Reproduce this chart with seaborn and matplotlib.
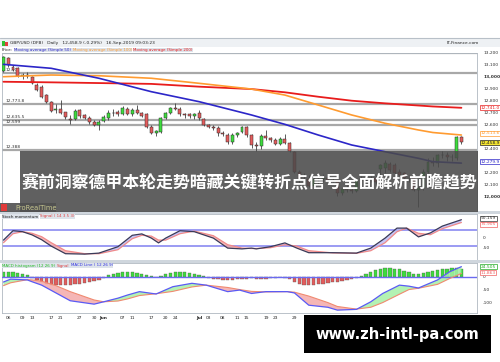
import matplotlib
matplotlib.use("Agg")
import matplotlib.pyplot as plt
import matplotlib.transforms as mtransforms
from matplotlib.patches import Rectangle
import numpy as np
import seaborn as sns

# ---------------- data ----------------
opens  = [13048,13153,13083,13070,13008,13014,13000,12931,12917,12847,12792,12720,12731,12703,12650,12647,12722,12681,12660,12625,
          12600,12631,12658,12695,12705,12690,12730,12689,12720,12700,12689,12583,12530,12542,12658,12700,12742,12730,12689,12689,
          12670,12700,12647,12597,12583,12575,12528,12514,12453,12514,12542,12583,12514,12430,12420,12505,12490,12475,12440,12485,
          12450,12375,12208,12150,12150,12090,12150,12145,12160,12140,12130,12030,12065,12060,12050,12150,12140,12145,12160,12228,
          12236,12272,12264,12208,12195,12153,12160,12060,12070,12210,12290,12285,12350,12345,12330,12322,12495]
highs  = [13175,13165,13100,13080,13030,13040,13010,12945,12930,12855,12800,12770,12806,12710,12680,12730,12730,12690,12670,12640,
          12640,12680,12720,12730,12720,12760,12745,12740,12765,12710,12700,12600,12560,12665,12710,12745,12778,12750,12700,12700,
          12700,12720,12660,12610,12600,12590,12545,12530,12530,12540,12590,12590,12520,12460,12520,12560,12500,12490,12500,12520,
          12460,12380,12220,12200,12180,12170,12170,12190,12175,12160,12140,12080,12100,12080,12160,12175,12160,12175,12180,12270,
          12310,12290,12280,12230,12210,12180,12170,12090,12230,12320,12330,12360,12380,12370,12360,12510,12505]
lows   = [13040,13085,13050,13000,12985,12990,12940,12880,12820,12780,12705,12700,12690,12650,12603,12640,12660,12650,12610,12590,
          12560,12620,12640,12670,12675,12680,12680,12670,12690,12665,12575,12520,12506,12530,12650,12690,12720,12670,12660,12660,
          12650,12640,12590,12575,12560,12510,12510,12440,12440,12500,12530,12500,12406,12380,12400,12470,12460,12430,12430,12440,
          12370,12200,12110,12110,12080,12080,12100,12120,12120,12120,12010,12015,12040,12030,12040,12110,12120,12120,12110,12120,
          12200,12210,12190,12170,12140,12120,12050,11917,12060,12200,12260,12250,12320,12300,12300,12310,12440]
closes = [13167,13098,13056,13008,13014,13005,12945,12889,12833,12792,12714,12730,12700,12662,12640,12714,12675,12660,12625,12600,
          12625,12665,12700,12700,12690,12736,12689,12725,12700,12675,12583,12528,12545,12658,12700,12736,12735,12689,12685,12670,
          12689,12653,12597,12583,12575,12528,12520,12453,12514,12528,12583,12514,12430,12420,12505,12490,12475,12440,12480,12450,
          12380,12208,12145,12150,12090,12150,12145,12160,12140,12130,12030,12065,12060,12050,12150,12140,12145,12160,12125,12264,
          12278,12222,12195,12180,12153,12160,12060,12070,12210,12290,12285,12350,12345,12330,12335,12495,12459]

ma_idx    = [0, 10, 20, 31, 41, 52, 59, 66, 73, 80, 87, 90, 96]
sma50     = [13103, 13070, 12987, 12875, 12792, 12681, 12603, 12514, 12431, 12375, 12320, 12292, 12280]
sma100    = [13000, 13014, 13008, 12987, 12945, 12897, 12847, 12764, 12681, 12612, 12556, 12535, 12514]
sma200    = [12958, 12953, 12947, 12940, 12917, 12897, 12870, 12833, 12800, 12778, 12760, 12752, 12741]

level_lines  = [13200, 13033, 12773.8, 12635.5, 12599, 12388]
level_labels = ["", "", "12,773.8", "12,635.5", "12,599", "12,388"]
price_ticks  = [13200, 13100, 13000, 12900, 12800, 12700, 12600, 12400, 12200, 12100, 12000]

st_idx  = [0, 2, 4, 6, 8, 10, 13, 17, 20, 24, 27, 29, 31, 32.5, 34, 37, 40, 44, 47, 50, 52, 53, 56, 59, 61.5, 64, 69, 74, 77, 80, 82.5, 84.5, 87, 89.5, 92, 96]
st_main = [-12, 35, 30, 14, -10, -42, -80, -82, -77, -45, 12, 19, -2, -26, -2, 35, 30, -2, -52, -56, -52, -56, -45, -26, -52, -75, -75, -77, -52, -2, 48, 48, 4, 24, 58, 90]
st_sig  = [-25, 20, 30, 22, 5, -25, -65, -80, -80, -60, -5, 12, 8, -12, -12, 20, 33, 10, -35, -52, -54, -54, -50, -35, -42, -65, -76, -78, -65, -25, 30, 48, 22, 15, 45, 76]

md_idx  = [0, 1.5, 5, 6, 8, 11, 14, 19, 21, 24, 26, 28.5, 32, 35.5, 39.5, 42.5, 47, 49.5, 52, 55, 59.5, 61, 64, 68, 70, 74, 77, 79.5, 83, 85, 87, 91, 93.5, 96]
md_line = [-21, -10, -13, -20, -33, -63, -93, -106, -97, -83, -71, -58, -67, -39, -26, -33, -58, -52, -65, -58, -58, -63, -110, -118, -129, -126, -97, -65, -33, -37, -44, -13, 18, 38]
md_sig  = [-35, -24, -12, -13, -18, -35, -58, -90, -97, -94, -86, -73, -66, -57, -40, -33, -42, -50, -57, -59, -58, -60, -75, -100, -115, -125, -118, -100, -68, -50, -45, -30, -8, 12]
md_hist = [18, 18, 16, 12, 8, 4,
           -5, -12, -20, -27, -31, -33, -33, -32, -31, -30, -28, -25, -22, -18, -12, -6,
           4, 9, 13, 16, 17, 16, 12, 8, 4, 1, -2,
           3, 8, 13, 16, 17, 16, 13, 9, 5, 1,
           -4, -8, -11, -13, -13, -12, -10, -9, -8, -7,
           -9, -11, -9, -6, -4, -3, -5,
           -10, -22, -30, -33, -33, -32, -30, -28, -25, -22, -20, -17, -14, -10, -5,
           2, 10, 18, 25, 30, 31, 31, 30, 28, 22, 16, 10, 8, 12, 18, 22, 25, 28, 30, 31, 31, 30]

xtick_idx    = [1, 4, 6, 10, 12, 16, 19, 21, 25, 27, 31, 34, 36, 41, 43, 46, 49, 51, 55, 57, 61, 64, 66, 70, 72, 76, 79, 81, 86, 88, 91, 94, 96]
xtick_labels = ["06", "09", "13", "17", "21", "27", "30", "Jun", "07", "11", "17", "20", "24", "Jul", "03", "08", "11", "15", "19", "23", "29",
                "Aug", "05", "09", "13", "19", "22", "26", "Sep", "04", "09", "12", "16"]
month_names = {"Jun", "Jul", "Aug", "Sep"}

title_text = "赛前洞察德甲本轮走势暗藏关键转折点信号全面解析前瞻趋势"
site_text = "www.zh-intl-pa.com"

# ---------------- figure ----------------
sns.set_theme(style="white")
plt.rcParams['font.family'] = ['DejaVu Sans']
W, H = 500, 362
fig = plt.figure(figsize=(W / 100, H / 100), dpi=100)
fig.patch.set_facecolor("white")
renderer = fig.canvas.get_renderer()

def add_ax(x0, y0, x1, y1, z=1):
    return fig.add_axes([x0 / W, 1 - y1 / H, (x1 - x0) / W, (y1 - y0) / H], zorder=z)

XL = (-0.31, 99.27)
idx = np.arange(len(closes))
tiny = 3.2
leg = 2.9
lab_bg = "#dde3ea"

# price panel
ax = add_ax(2, 53, 477, 211)
ax.set_xlim(*XL)
ax.set_ylim(11881, 13197.5)
for lv in level_lines:
    ax.axhline(lv, color="#a8a8a8", lw=1.6, zorder=1)
for lv, lb in zip(level_lines, level_labels):
    if lb:
        ax.text(0.5, lv + 8, lb, fontsize=tiny, color="#333333", ha="left", va="bottom", zorder=2)
ax.text(0.5, 13041, "12,91", fontsize=tiny, color="#333333", ha="left", va="bottom", zorder=2)

o = np.array(opens); c = np.array(closes); hi = np.array(highs); lo = np.array(lows)
up = c >= o
ax.vlines(idx, lo, hi, color="#404040", lw=0.6, zorder=3)
ax.bar(idx[up], (c - o)[up], bottom=o[up], width=0.62, color="#3ddc3d", edgecolor="#2a2a2a", lw=0.35, zorder=4)
ax.bar(idx[~up], (o - c)[~up], bottom=c[~up], width=0.62, color="#e35c5c", edgecolor="#2a2a2a", lw=0.35, zorder=4)

sns.lineplot(x=ma_idx, y=sma200, color="#e81c1c", lw=1.3, ax=ax, sort=False, zorder=5)
sns.lineplot(x=ma_idx, y=sma100, color="#ff9b30", lw=1.2, ax=ax, sort=False, zorder=5)
sns.lineplot(x=ma_idx, y=sma50, color="#2c26c8", lw=1.2, ax=ax, sort=False, zorder=5)
ax.set_xticks([]); ax.set_yticks([])
for s in ax.spines.values():
    s.set_color("#b0b8c0"); s.set_linewidth(0.6)

def rlabel(a, tr, y, txt, bold=False):
    a.text(1.013, y, txt, transform=tr, fontsize=tiny, color="#333333", ha="left", va="center",
           fontweight="bold" if bold else "normal", clip_on=False)

def vbox(a, tr, y, txt, col, fc="white"):
    a.text(1.008, y, txt, transform=tr, fontsize=tiny, color=col, ha="left", va="center", clip_on=False, zorder=20,
           bbox=dict(boxstyle="square,pad=0.12", fc=fc, ec=col, lw=0.5))

bt = mtransforms.blended_transform_factory(ax.transAxes, ax.transData)
for t in price_ticks:
    rlabel(ax, bt, t, f"{t:,}", bold=t in (13000, 12000))
vbox(ax, bt, sma200[-1], "12,741.0", "#e81c1c")
vbox(ax, bt, 12528, "12,513.6", "#ff9b30")
vbox(ax, bt, 12450, "12,458.9", "#222222", fc="#f4e531")
vbox(ax, bt, 12290, "12,279.9", "#2c26c8")

def seq_text(a, x, y, parts, tr, gap=1.5, **kw):
    """Place coloured label parts one after the other (x in pixels)."""
    for txt, col, fc in parts:
        t = a.text(x, y, txt, color=col, fontsize=leg, ha="left", va="center", transform=tr,
                   bbox=dict(boxstyle="square,pad=0.1", fc=fc, ec="none") if fc else None, **kw)
        bb = t.get_window_extent(renderer)
        x += bb.width + gap
    return x

# stochastic panel
ax2 = add_ax(2, 214, 477, 260)
ax2.set_xlim(*XL); ax2.set_ylim(-111.5, 118.5)
for lv in (40, -40):
    ax2.axhline(lv, color="#8080f0", lw=1.1, zorder=1)
sm = np.array(st_main); ss = np.array(st_sig)
ax2.fill_between(st_idx, sm, ss, where=sm < ss, interpolate=True, color="#f4a8a8", alpha=0.8, lw=0, zorder=2)
ax2.fill_between(st_idx, sm, ss, where=sm >= ss, interpolate=True, color="#b8b8f4", alpha=0.8, lw=0, zorder=2)
sns.lineplot(x=st_idx, y=st_sig, color="#f08a8a", lw=0.9, ax=ax2, sort=False, zorder=3)
sns.lineplot(x=st_idx, y=st_main, color="#3a3a58", lw=0.9, ax=ax2, sort=False, zorder=4)
ax2.set_xticks([]); ax2.set_yticks([])
for s in ax2.spines.values():
    s.set_color("#b0b8c0"); s.set_linewidth(0.6)
bt2 = mtransforms.blended_transform_factory(ax2.transAxes, ax2.transData)
rlabel(ax2, bt2, 0, "0")
rlabel(ax2, bt2, -50, "-50")
vbox(ax2, bt2, 97, "90.159", "#333333")
vbox(ax2, bt2, 68, "75.905", "#f06060")

# MACD panel
ax3 = add_ax(2, 263, 477, 313)
ax3.set_xlim(*XL); ax3.set_ylim(-140, 52)
hist = np.array(md_hist)
ax3.bar(idx, hist, width=0.7, color=np.where(hist >= 0, "#3ddc3d", "#e35c5c"), edgecolor="#555555", lw=0.25, zorder=2)
ax3.axhline(0, color="#6a6af0", lw=1.0, zorder=3)
ml = np.array(md_line); ms = np.array(md_sig)
ax3.fill_between(md_idx, ml, ms, where=ml >= ms, interpolate=True, color="#a6f0a6", alpha=0.85, lw=0, zorder=2)
ax3.fill_between(md_idx, ml, ms, where=ml < ms, interpolate=True, color="#f4aaaa", alpha=0.85, lw=0, zorder=2)
sns.lineplot(x=md_idx, y=md_sig, color="#f08a70", lw=0.8, ax=ax3, sort=False, zorder=4)
sns.lineplot(x=md_idx, y=md_line, color="#5a5af5", lw=0.9, ax=ax3, sort=False, zorder=5)
ax3.set_yticks([])
ax3.set_xticks(xtick_idx)
ax3.set_xticklabels(xtick_labels)
ax3.tick_params(axis="x", length=0, pad=2.5, labelsize=tiny, labelcolor="#222222")
for tl in ax3.get_xticklabels():
    if tl.get_text() in month_names:
        tl.set_fontweight("bold")
for s in ax3.spines.values():
    s.set_color("#b0b8c0"); s.set_linewidth(0.6)
bt3 = mtransforms.blended_transform_factory(ax3.transAxes, ax3.transData)
rlabel(ax3, bt3, 0, "0")
rlabel(ax3, bt3, -50, "-50")
rlabel(ax3, bt3, -100, "-100")
vbox(ax3, bt3, 37, "24.505", "#22aa22")
vbox(ax3, bt3, 14, "11.863", "#f06060")

# overlay / decorations in pixel space
ov = fig.add_axes([0, 0, 1, 1], zorder=10)
ov.set_xlim(0, W); ov.set_ylim(H, 0); ov.axis("off"); ov.patch.set_alpha(0)
ov.add_patch(Rectangle((0, 38), 500, 9, fc="#eef1f4", ec="none"))
ov.plot([0, 500], [38, 38], color="#b8c0c8", lw=0.8)
ov.add_patch(Rectangle((2, 40.5), 2.5, 5, fc="#30c030", ec="none"))
ov.add_patch(Rectangle((5, 41.5), 2.5, 4, fc="#e04040", ec="none"))
ov.text(10, 43, "GBP/USD (DFB)   Daily   12,458.9 (-0.29%)   16-Sep-2019 09:03:23", fontsize=tiny, color="#222222",
        va="center", ha="left")
ov.text(479, 43, "IT-Finance.com", fontsize=tiny, color="#222222", va="center", ha="right")
seq_text(ov, 2, 50, [("Price:", "#222222", None),
                     ("Moving average (Simple 50)", "#2c26c8", lab_bg),
                     ("Moving average (Simple 100)", "#ff9b30", lab_bg),
                     ("Moving average (Simple 200)", "#e81c1c", lab_bg)], ov.transData, gap=1.2)
seq_text(ov, 2.5, 216.5, [("Stoch momentum", "#111111", lab_bg),
                          ("Signal ( 14 3 5 3)", "#e04040", lab_bg)], ov.transData, gap=1.2, zorder=12)
seq_text(ov, 2.5, 265.5, [("MACD histogram (12 26 9)", "#22bb22", lab_bg),
                          ("Signal", "#e04040", lab_bg),
                          ("MACD Line ( 12 26 9)", "#3030e0", lab_bg)], ov.transData, gap=1.2, zorder=12)
ov.add_patch(Rectangle((0, 211), 500, 3, fc="#cfd6dd", ec="none"))
ov.add_patch(Rectangle((0, 260), 500, 3, fc="#cfd6dd", ec="none"))

# dark banner
ov.add_patch(Rectangle((20, 151), 458, 61, fc="#4a4a4a", ec="none", alpha=0.88, zorder=5))
ov.text(249, 183, title_text, fontsize=12.2, color="white", fontweight="bold", ha="center", va="center",
        family=["Noto Sans CJK SC", "DejaVu Sans"], zorder=6)
ov.add_patch(Rectangle((0, 203), 56, 9, fc="#505050", ec="none", alpha=0.9, zorder=6))
ov.add_patch(Rectangle((1, 204), 6, 7, fc="#e03a3a", ec="none", zorder=7))
ov.text(15, 207.5, "ProRealTime", fontsize=4.8, color="#c8c890", ha="left", va="center", zorder=7)

# website box
ov.add_patch(Rectangle((304, 315), 187, 38, fc="black", ec="none", zorder=6))
ov.text(397, 335, site_text, fontsize=10.5, color="white", fontweight="bold", ha="center", va="center", zorder=7)

fig.savefig("out.png", dpi=100, facecolor="white")
